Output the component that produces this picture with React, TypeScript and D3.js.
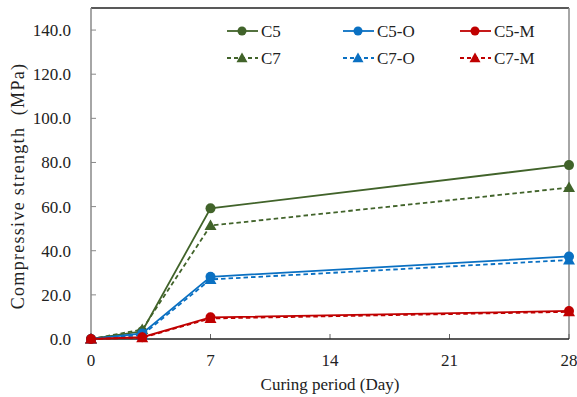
import React from "react";
import * as d3 from "d3";

const days = [0, 3, 7, 28];
const seriesNames = ["C5", "C5-O", "C5-M", "C7", "C7-O", "C7-M"];
const C5 = [0, 3.5, 59.2, 78.8];
const C5O = [0, 2.5, 28.2, 37.4];
const C5M = [0, 0.8, 9.8, 12.7];
const C7 = [0, 4.3, 51.4, 68.6];
const C7O = [0, 1.8, 27.0, 35.8];
const C7M = [0, 0.6, 9.3, 12.3];
const xTicks = [0, 7, 14, 21, 28];
const yTicks = [0, 20, 40, 60, 80, 100, 120, 140];

const GREEN = "#41632a";
const BLUE = "#0a70c2";
const RED = "#c00000";

type S = { name: string; values: number[]; color: string; dashed: boolean; marker: "circle" | "triangle" };
const series: S[] = [
  { name: seriesNames[0], values: C5, color: GREEN, dashed: false, marker: "circle" },
  { name: seriesNames[1], values: C5O, color: BLUE, dashed: false, marker: "circle" },
  { name: seriesNames[2], values: C5M, color: RED, dashed: false, marker: "circle" },
  { name: seriesNames[3], values: C7, color: GREEN, dashed: true, marker: "triangle" },
  { name: seriesNames[4], values: C7O, color: BLUE, dashed: true, marker: "triangle" },
  { name: seriesNames[5], values: C7M, color: RED, dashed: true, marker: "triangle" },
];

const W = 577, H = 397;
const L = 91, R = 569, T = 8, B = 339;
const FONT = "'Liberation Serif', 'Times New Roman', serif";

function Marker({ s, x, y, small }: { s: S; x: number; y: number; small?: boolean }) {
  if (s.marker === "circle") return <circle cx={x} cy={y} r={small ? 4.5 : 5} fill={s.color} />;
  const a = small ? 5.5 : 6;
  const p = `M${x},${y - a}L${x + a},${y + a * 0.75}L${x - a},${y + a * 0.75}Z`;
  return <path d={p} fill={s.color} />;
}

export default function App() {
  const x = d3.scaleLinear().domain([0, 28]).range([L, R]);
  const y = d3.scaleLinear().domain([0, 150]).range([B, T]);
  const line = d3
    .line<number>()
    .x((_, i) => x(days[i]))
    .y((v) => y(v));

  const legendCols = [227, 343, 460];
  const legendRows = [31, 58];

  const drawOrder = [series[3], series[0], series[4], series[1], series[2], series[5]];

  return (
    <svg width={W} height={H} style={{ position: "absolute", left: 0, top: 0, background: "#fff" }}>
      <rect x={0} y={0} width={W} height={H} fill="#fff" />
      <line x1={L} x2={R} y1={T} y2={T} stroke="#222" strokeWidth={1.3} />
      <line x1={R} x2={R} y1={T} y2={B} stroke="#888" strokeWidth={1.5} />
      {yTicks.map((t) => (
        <g key={t}>
          <line x1={L} x2={L + 5} y1={y(t)} y2={y(t)} stroke="#888" strokeWidth={1} />
          <text x={71} y={y(t) + 6} textAnchor="end" fontFamily={FONT} fontSize={17} fill="#222">
            {t.toFixed(1)}
          </text>
        </g>
      ))}
      {xTicks.map((t) => (
        <g key={t}>
          <line x1={x(t)} x2={x(t)} y1={B} y2={B - 5} stroke="#666" strokeWidth={1} />
          <text x={x(t)} y={366} textAnchor="middle" fontFamily={FONT} fontSize={17} fill="#222">
            {t}
          </text>
        </g>
      ))}
      <line x1={L} x2={L} y1={T} y2={B} stroke="#888" strokeWidth={1.5} />
      <line x1={L} x2={R} y1={B} y2={B} stroke="#222" strokeWidth={1.3} />
      <text x={330} y={390} textAnchor="middle" fontFamily={FONT} fontSize={17} fill="#222">
        Curing period (Day)
      </text>
      <text
        transform={`translate(24,186) rotate(-90)`}
        textAnchor="middle"
        fontFamily={FONT}
        fontSize={18}
        letterSpacing={1.3}
        fill="#222"
        style={{ whiteSpace: "pre" }}
      >
        {"Compressive strength  (MPa)"}
      </text>
      {drawOrder.map((s) => (
        <g key={s.name}>
          <path
            d={line(s.values) || ""}
            fill="none"
            stroke={s.color}
            strokeWidth={1.8}
            strokeDasharray={s.dashed ? "4.5,3" : undefined}
          />
          {s.values.map((v, i) => (
            <Marker key={i} s={s} x={x(days[i])} y={y(v)} />
          ))}
        </g>
      ))}
      {series.map((s, i) => {
        const col = i % 3;
        const row = Math.floor(i / 3);
        const lx = legendCols[col];
        const ly = legendRows[row];
        return (
          <g key={"lg" + s.name}>
            <line
              x1={lx}
              x2={lx + 31}
              y1={ly}
              y2={ly}
              stroke={s.color}
              strokeWidth={1.8}
              strokeDasharray={s.dashed ? "4,3" : undefined}
            />
            <Marker s={s} x={lx + 15} y={ly} small />
            <text x={lx + 34} y={ly + 6} fontFamily={FONT} fontSize={17} fill="#222">
              {s.name}
            </text>
          </g>
        );
      })}
    </svg>
  );
}
